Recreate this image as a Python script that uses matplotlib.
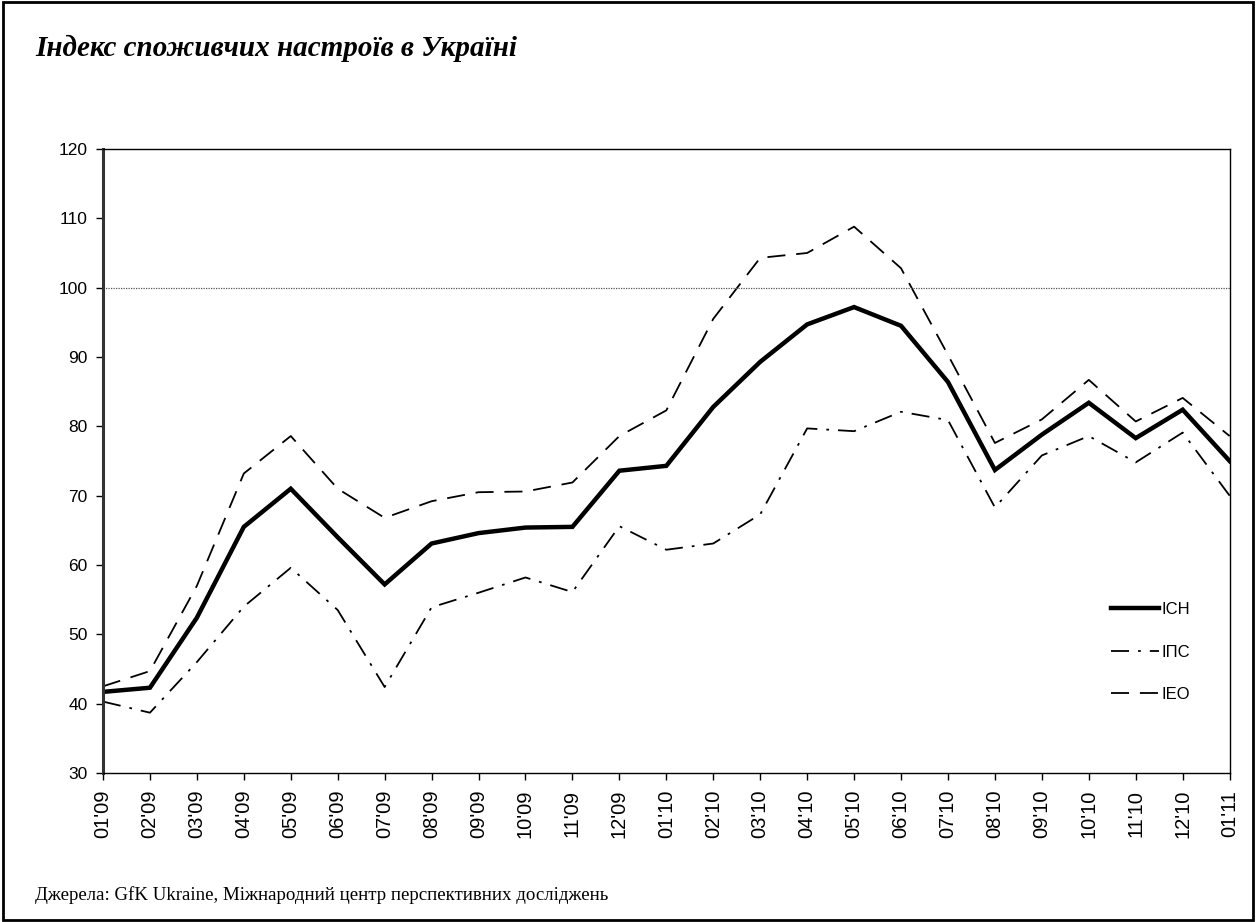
import matplotlib
matplotlib.use("Agg")
import matplotlib.pyplot as plt
from matplotlib.patches import Rectangle

# months, 01'09 .. 01'11
months = ["01'09", "02'09", "03'09", "04'09", "05'09", "06'09", "07'09",
          "08'09", "09'09", "10'09", "11'09", "12'09", "01'10", "02'10",
          "03'10", "04'10", "05'10", "06'10", "07'10", "08'10", "09'10",
          "10'10", "11'10", "12'10", "01'11"]

ich = [41.7, 42.3, 52.4, 65.5, 71.0, 64.0, 57.2, 63.1, 64.6, 65.4, 65.5,
       73.6, 74.3, 82.8, 89.3, 94.7, 97.2, 94.5, 86.4, 73.7, 78.8, 83.4,
       78.3, 82.4, 75.0]
ipc = [40.3, 38.7, 46.0, 54.0, 59.6, 53.5, 42.4, 53.9, 56.0, 58.2, 56.1,
       65.6, 62.2, 63.1, 67.3, 79.7, 79.3, 82.1, 80.9, 68.3, 75.8, 78.6,
       74.8, 79.1, 70.0]
ieo = [42.5, 44.7, 57.0, 73.2, 78.6, 71.0, 66.8, 69.2, 70.5, 70.6, 71.9,
       78.6, 82.3, 95.5, 104.3, 105.0, 108.8, 102.8, 90.3, 77.6, 81.0, 86.7,
       80.7, 84.1, 78.6]

title = "Індекс споживчих настроїв в Україні"
source = "Джерела: GfK Ukraine, Міжнародний центр перспективних досліджень"

plt.rcParams["font.family"] = ["Liberation Sans", "DejaVu Sans"]

fig = plt.figure(figsize=(12.56, 9.22), dpi=100)
ax = fig.add_axes([0.082, 0.1616, 0.897, 0.6768])

x = list(range(len(months)))
ax.plot(x, ich, color="black", lw=3.2, solid_joinstyle="miter", label="ІСН")
ax.plot(x, ipc, color="black", lw=1.3, dashes=(10, 5, 1.5, 5), label="ІПС")
ax.plot(x, ieo, color="black", lw=1.3, dashes=(10, 6), label="ІЕО")
ax.axhline(100, color="#555555", lw=0.9, ls=(0, (1, 1)))

ax.set_xlim(0, len(months) - 1)
ax.set_ylim(30, 120)
ax.set_yticks(range(30, 121, 10))
ax.set_xticks(x)
ax.set_xticklabels(months, rotation=90)
ax.tick_params(axis="both", direction="out", length=5, width=1, pad=6)
ax.tick_params(axis="y", labelsize=12.5)
ax.tick_params(axis="x", labelsize=14.5, pad=7)
for s in ax.spines.values():
    s.set_linewidth(1)
ax.spines["left"].set_linewidth(2.2)
ax.spines["left"].set_color("#333333")

ax.legend(loc="upper left", bbox_to_anchor=(0.881, 0.298), frameon=False,
          fontsize=12, handlelength=2.9, handletextpad=0.15,
          labelspacing=1.65)

fig.text(0.028, 0.947, title, fontsize=21, fontweight="bold",
         fontstyle="italic", family="Liberation Serif", va="center")
fig.text(0.028, 0.029, source, fontsize=13.6, family="Liberation Serif",
         va="center")

fig.add_artist(Rectangle((0.002, 0.002), 0.996, 0.996, transform=fig.transFigure,
                         fill=False, lw=2, edgecolor="black"))

fig.savefig("out.png", dpi=100)
